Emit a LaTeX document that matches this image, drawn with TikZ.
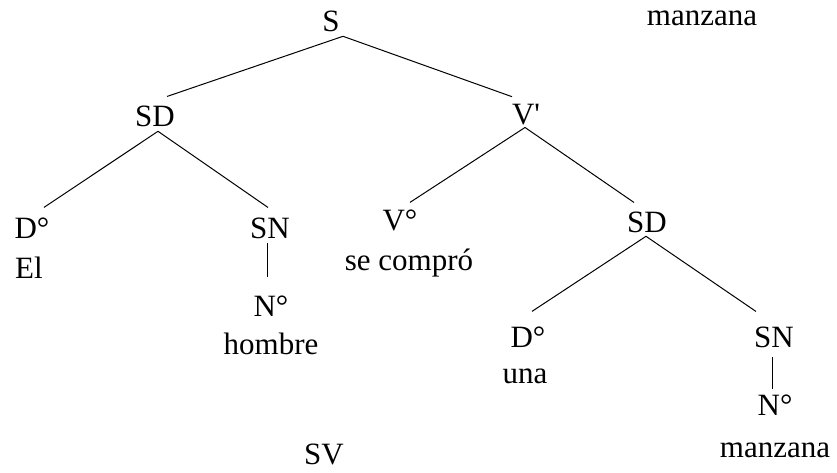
\documentclass[tikz,border=0pt]{standalone}
\usepackage{fontspec}
\setmainfont{Liberation Serif}

\begin{document}
\begin{tikzpicture}[x=1pt, y=-1pt,
    lbl/.style={inner sep=0pt, outer sep=0pt, anchor=base, font=\fontsize{31}{37}\selectfont},
    branch/.style={line width=1pt}]
  \useasboundingbox (0,0) rectangle (837,473);
  \node[lbl] (S) at (331,32) {S};
  \node[lbl] (mzTop) at (702,26) {manzana};
  \node[lbl] (SDa) at (155,127) {SD};
  \node[lbl] (Vbar) at (526,125) {V\textquotesingle};
  \node[lbl] (Da) at (32,238) {D°};
  \node[lbl] (El) at (29,278) {El};
  \node[lbl] (SNa) at (270,238) {SN};
  \node[lbl] (Na) at (271,316) {N°};
  \node[lbl] (hombre) at (271,354) {hombre};
  \node[lbl] (V0) at (400,230) {V°};
  \node[lbl] (secompro) at (409,270) {se compró};
  \node[lbl] (SDb) at (647,232) {SD};
  \node[lbl] (Db) at (528,347) {D°};
  \node[lbl] (una) at (525,383) {una};
  \node[lbl] (SNb) at (774,347) {SN};
  \node[lbl] (Nb) at (775,415) {N°};
  \node[lbl] (mzBot) at (775,457) {manzana};
  \node[lbl] (SV) at (324,464) {SV};
  \draw[branch] ([shift={(12,4)}]S.south) -- ([shift={(12,-10)}]SDa.north);
  \draw[branch] ([shift={(12,4)}]S.south) -- ([shift={(-14,-8)}]Vbar.north);
  \draw[branch] ([shift={(3,4)}]SDa.south) -- ([shift={(12,-10)}]Da.north);
  \draw[branch] ([shift={(3,4)}]SDa.south) -- ([shift={(-2,-10)}]SNa.north);
  \draw[branch] ([shift={(-3,5)}]SNa.south) -- ([shift={(-4,-18)}]Na.north);
  \draw[branch] ([shift={(-1,2)}]Vbar.south) -- ([shift={(10,-7)}]V0.north);
  \draw[branch] ([shift={(-1,2)}]Vbar.south) -- ([shift={(-13,-9)}]SDb.north);
  \draw[branch] ([shift={(-1,4)}]SDb.south) -- ([shift={(4,-15)}]Db.north);
  \draw[branch] ([shift={(-1,4)}]SDb.south) -- ([shift={(-18,-15)}]SNb.north);
  \draw[branch] ([shift={(-2,10)}]SNb.south) -- ([shift={(-3,-5)}]Nb.north);
\end{tikzpicture}
\end{document}
